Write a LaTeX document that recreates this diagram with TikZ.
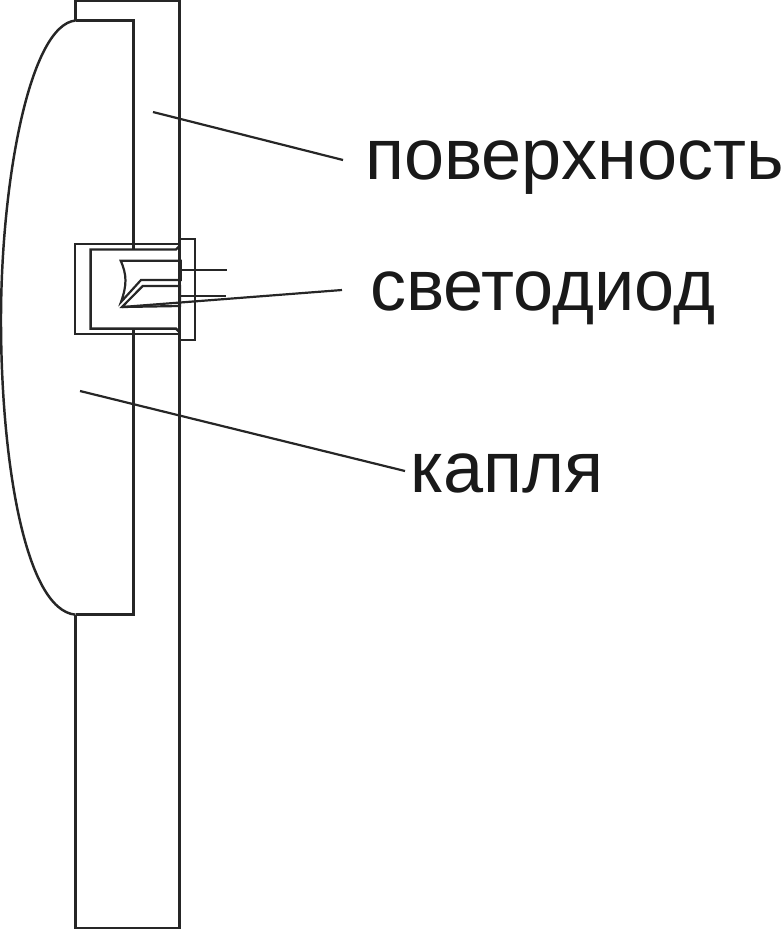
\documentclass[tikz,border=0pt]{standalone}
\usepackage{fontspec}
\setmainfont{Liberation Sans}
\begin{document}
\begin{tikzpicture}[x=0.2mm,y=0.2mm]
\tikzstyle{every node}+=[inner sep=0pt]
\tikzstyle{contour}=[black!85, line width=1.4pt]
\tikzstyle{thin contour}=[black!85, line width=1.25pt]
\tikzstyle{caption}=[anchor=west, font=\fontsize{41}{41}\selectfont, text depth=3pt, text=black!90]
\useasboundingbox (0,0) rectangle (783,-930);
\draw [contour] (75.5,-20.5) -- (75.5,-0.8) -- (179.5,-0.8) -- (179.5,-928) -- (75.5,-928) -- (75.5,-615);
\draw [contour] (75.5,-20.5) -- (133.7,-20.5) -- (133.7,-249.5);
\draw [contour] (133.7,-328.7) -- (133.7,-614.7) -- (75.5,-614.7);
\draw [contour] (75.5,-20.5) .. controls (30,-25) and (1,-180) .. (1,-320) .. controls (1,-460) and (25,-610) .. (75.5,-614.7);
\draw [contour] (179.5,-239) -- (195,-239) -- (195,-340) -- (179.5,-340);
\draw [contour] (179.5,-244) -- (75,-244) -- (75,-334) -- (179.5,-334);
\draw [contour] (179.5,-244) -- (179.5,-246) -- (176,-249.5) -- (90.7,-249.5) -- (90.7,-328.7) -- (176,-328.7) -- (179.5,-332);
\draw [thin contour] (180.7,-280) -- (141,-280) -- (121,-302) .. controls (127,-285) and (127,-275) .. (120.7,-260.7) -- (180.7,-260.7) -- cycle;
\draw [thin contour] (180,-286) -- (142.7,-286) -- (122,-307) -- (180,-306) -- cycle;
\draw [thin contour] (180.7,-270) -- (227,-270);
\draw [thin contour] (180,-296) -- (226,-296);
\node [caption, text height=25pt, inner xsep=12.5pt] (surfacelabel) at (343,-160) {поверхность};
\node [caption, text height=26.4pt, inner xsep=16pt] (ledlabel) at (342,-290) {светодиод};
\node [caption, text height=28pt, inner xsep=2.8pt] (droplabel) at (405,-471) {капля};
\coordinate (surfacepoint) at (153,-112);
\coordinate (ledpoint) at (122,-307);
\coordinate (droppoint) at (80,-391);
\draw [thin contour] (surfacelabel.west) -- (surfacepoint);
\draw [thin contour] (ledlabel.west) -- (ledpoint);
\draw [thin contour] (droplabel.west) -- (droppoint);
\end{tikzpicture}
\end{document}
